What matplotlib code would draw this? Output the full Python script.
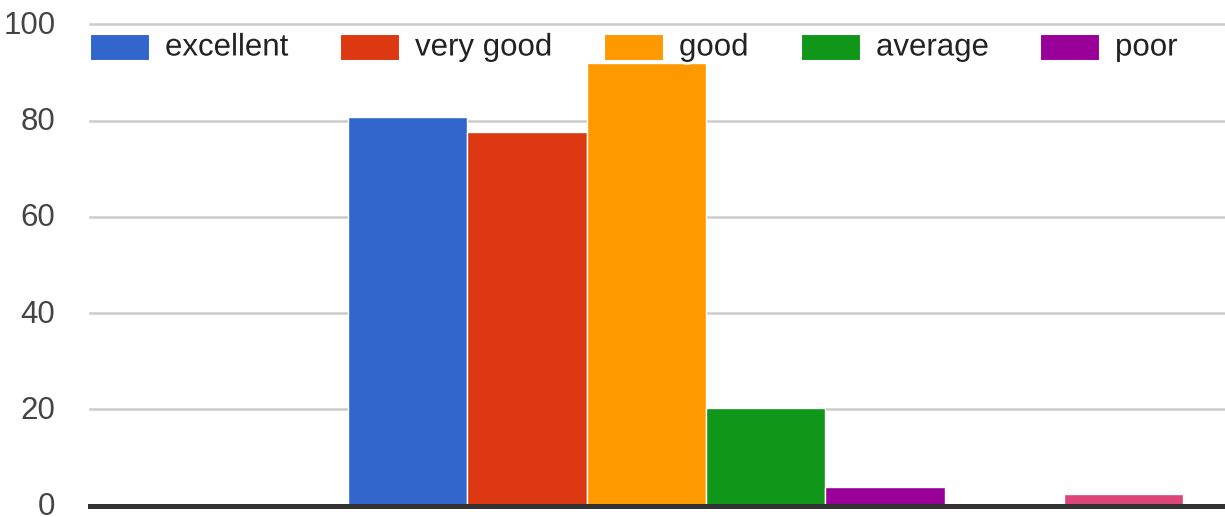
import matplotlib
matplotlib.use("Agg")
import matplotlib.pyplot as plt
from matplotlib.patches import Rectangle
from matplotlib.transforms import ScaledTranslation
import matplotlib.patheffects as pe

# ---- data ----
series_names = ["excellent", "very good", "good", "average", "poor", "", ""]
series_values = [80.7, 77.7, 91.9, 20.3, 3.8, 0.0, 2.4]
series_colors = ["#3366CC", "#DC3912", "#FF9900", "#109618", "#990099", "#0099C6", "#DD4477"]
legend_count = 5
y_ticks = [0, 20, 40, 60, 80, 100]

W, H = 1225, 517
fig = plt.figure(figsize=(W / 100, H / 100), dpi=100)
plt.rcParams["font.family"] = ["Liberation Sans", "DejaVu Sans"]

left_px, right_px = 90, 1225
zero_px, top_px = 505.5, 24.5
ax = fig.add_axes([left_px / W, 1 - zero_px / H, (right_px - left_px) / W, (zero_px - top_px) / H])

slot_px = 119.3
first_bar_px = 348
ax.set_xlim(0, (right_px - left_px) / slot_px)
ax.set_ylim(0, 100)

offset = (first_bar_px - left_px) / slot_px
for i, (v, c) in enumerate(zip(series_values, series_colors)):
    if v > 0:
        ax.bar(offset + i, v, width=1.0, align="edge", color=c,
               edgecolor="white", linewidth=1.0, zorder=3)

for t in y_ticks[1:]:
    ax.axhline(t, color="#CCCCCC", linewidth=1.8, zorder=1, clip_on=False)
ax.axhline(0, color="#333333", linewidth=3.6, zorder=4, clip_on=False)

ax.set_yticks(y_ticks)
ax.set_yticklabels([str(t) for t in y_ticks], fontsize=22.5, color="#444444")
ax.tick_params(axis="y", length=0, pad=25)
shift = ScaledTranslation(0, 2.0 / 100, fig.dpi_scale_trans)
for lab in ax.get_yticklabels():
    lab.set_transform(lab.get_transform() + shift)
ax.set_xticks([])
for s in ax.spines.values():
    s.set_visible(False)

# ---- legend (top, drawn over the bars) ----
entry_x = [90, 340, 604, 801, 1040]
sw_w, sw_h = 60, 27
leg_cy = 47.5
for k in range(legend_count):
    x0 = entry_x[k]
    rect = Rectangle((x0 / W, 1 - (leg_cy + sw_h / 2) / H), sw_w / W, sw_h / H,
                     transform=fig.transFigure, facecolor=series_colors[k],
                     edgecolor="white", linewidth=1.5, zorder=10)
    fig.patches.append(rect)
    fig.text((x0 + sw_w + 15) / W, 1 - leg_cy / H, series_names[k], fontsize=22.5,
             color="#222222", va="center", ha="left", zorder=11,
             path_effects=[pe.withStroke(linewidth=4, foreground="white")])

fig.savefig("out.png", dpi=100)
